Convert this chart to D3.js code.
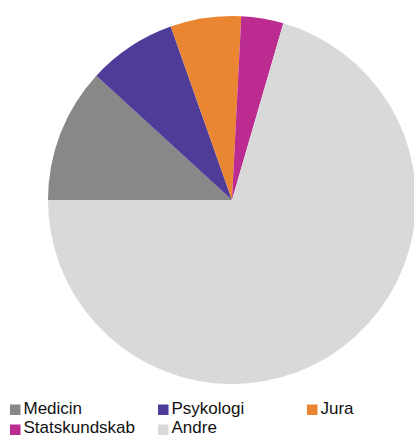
<!DOCTYPE html>
<html><head><meta charset="utf-8">
<script src="https://cdn.jsdelivr.net/npm/d3@7"></script>
<style>html,body{margin:0;padding:0;background:#fff;overflow:hidden}</style>
</head><body>
<svg id="c" width="414" height="437"></svg>
<script>
const categories = ["Medicin", "Psykologi", "Jura", "Statskundskab", "Andre"];
const values = [11.8, 7.8, 6.2, 3.7, 70.5];
const colors = ["#888888", "#4f3c98", "#ea8531", "#bc2b8f", "#d9d9d9"];

const svg = d3.select("#c");
const cx = 232, cy = 200, r = 184;
const pie = d3.pie().sort(null).startAngle(-Math.PI/2).endAngle(3*Math.PI/2);
const arc = d3.arc().innerRadius(0).outerRadius(r);
const data = categories.map((c,i)=>({cat:c, v:values[i], col:colors[i]}));
svg.append("g").attr("transform",`translate(${cx},${cy})`)
  .selectAll("path").data(pie.value(d=>d.v)(data)).join("path")
  .attr("d", arc).attr("fill", d=>d.data.col);

const colX = [10, 158, 307];
const rowY = [413.8, 433.3];
const boxY = [404.5, 424.5];
const lg = svg.append("g");
data.forEach((d,i)=>{
  const row = Math.floor(i/3);
  const x = colX[i%3], y = rowY[row];
  lg.append("rect").attr("x",x).attr("y",boxY[row]).attr("width",10.5).attr("height",10.5).attr("fill",d.col);
  lg.append("text").attr("x",x+13.5).attr("y",y).attr("font-family","Liberation Sans, Arial, sans-serif")
    .attr("font-size",17).attr("fill","#111").text(d.cat);
});
</script>
</body></html>
